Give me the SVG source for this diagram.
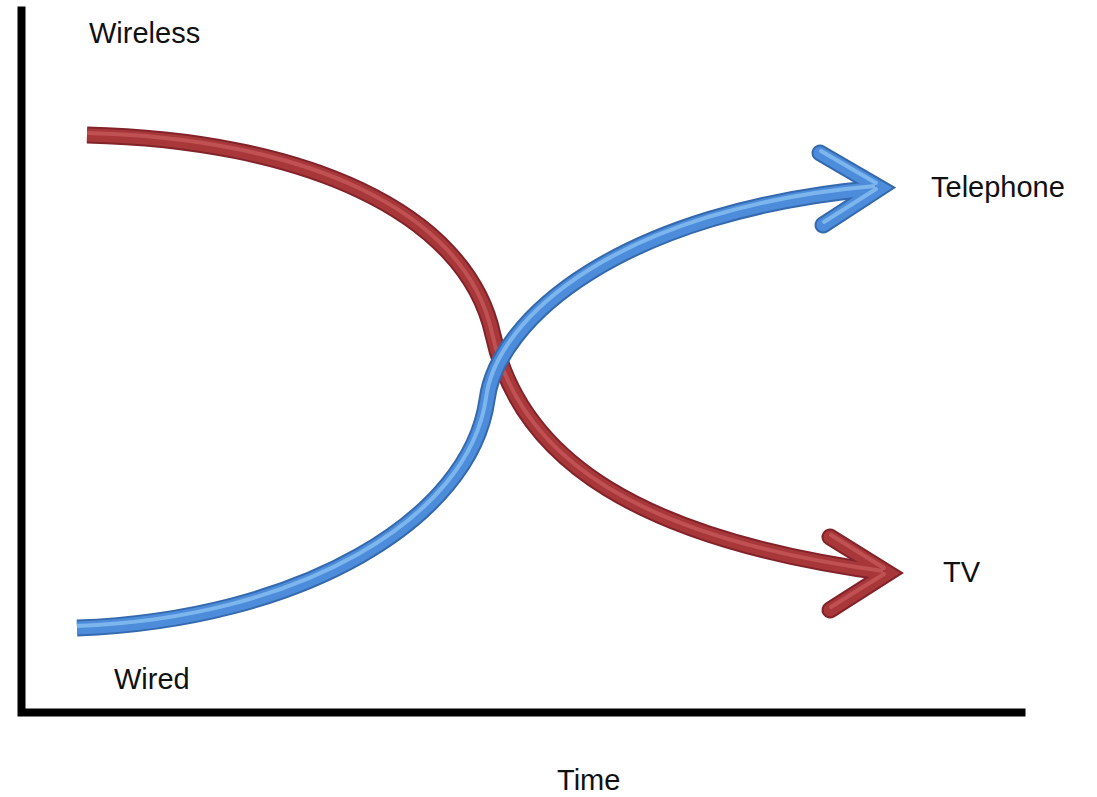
<svg xmlns="http://www.w3.org/2000/svg" width="1097" height="797" viewBox="0 0 1097 797">
<style>
  .lbl { font-family: "Liberation Sans", Arial, sans-serif; font-size: 29px; fill: #111; }
  .axis { stroke: #000; stroke-width: 8; fill: none; stroke-linecap: square; }
  .tube { fill: none; stroke-linejoin: miter; stroke-miterlimit: 6; }
  .shaft { stroke-linecap: butt; }
  .head { stroke-linecap: round; }
  .r1 { stroke: #82232a; stroke-width: 17; }
  .r2 { stroke: #a8373a; stroke-width: 13; }
  .r3 { stroke: #c4585a; stroke-width: 4; stroke-opacity: 0.8; }
  .b1 { stroke: #3569ad; stroke-width: 17; }
  .b2 { stroke: #4c8cda; stroke-width: 13; }
  .b3 { stroke: #86bdf0; stroke-width: 4; stroke-opacity: 0.85; }
</style>
<rect width="1097" height="797" fill="#fff"/>
<g id="axes">
  <path class="axis" d="M21.5,10.5 V712.5 H1021.5"/>
</g>
<g id="connectors">
  <g id="wireless-to-tv">
    <path class="tube shaft r1" d="M87,135 C300,140 466,210 493,335 C520,460 640,540 888,573"/>
    <path class="tube head r1" d="M830,537 L888,573 L830,610"/>
    <path class="tube shaft r2" d="M87,135 C300,140 466,210 493,335 C520,460 640,540 888,573"/>
    <path class="tube head r2" d="M830,537 L888,573 L830,610"/>
    <path class="tube shaft r3" transform="translate(-1,-2)" d="M88,135 C300,140 466,210 493,335 C520,460 640,540 884,573"/>
    <path class="tube head r3" transform="translate(0,-2)" d="M831,537 L884,570"/>
    <path class="tube head r3" transform="translate(0,-2)" d="M831,609 L884,576"/>
  </g>
  <g id="wired-to-telephone">
    <path class="tube shaft b1" d="M77,628 C300,620 470,520 487,400 C497,320 620,210 880,188"/>
    <path class="tube head b1" d="M820,153 L880,188 L823,225"/>
    <path class="tube shaft b2" d="M77,628 C300,620 470,520 487,400 C497,320 620,210 880,188"/>
    <path class="tube head b2" d="M820,153 L880,188 L823,225"/>
    <path class="tube shaft b3" transform="translate(-1,-2)" d="M78,628 C300,620 470,520 487,400 C497,320 620,210 876,188"/>
    <path class="tube head b3" transform="translate(0,-2)" d="M821,153 L876,185"/>
    <path class="tube head b3" transform="translate(0,-2)" d="M824,224 L876,191"/>
  </g>
</g>
<g id="label-wireless"><text class="lbl" x="89" y="43">Wireless</text></g>
<g id="label-telephone"><text class="lbl" x="931" y="197">Telephone</text></g>
<g id="label-tv"><text class="lbl" x="943" y="582">TV</text></g>
<g id="label-wired"><text class="lbl" x="114" y="689">Wired</text></g>
<g id="label-time"><text class="lbl" x="557" y="790">Time</text></g>
</svg>
